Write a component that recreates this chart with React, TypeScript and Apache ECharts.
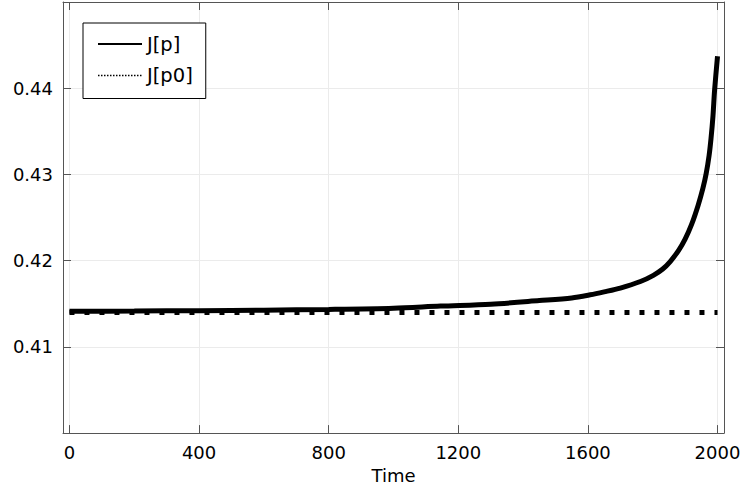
import React, { useEffect, useRef } from "react";
import * as echarts from "echarts";

const timeJp = [0, 200, 400, 600, 800, 1000, 1145, 1300, 1450, 1550, 1607, 1650, 1700, 1762, 1802, 1830, 1854, 1880, 1900, 1920, 1940, 1955, 1965, 1974, 1980, 1986, 1991, 2000];
const valuesJp = [0.41413, 0.41416, 0.4142, 0.41426, 0.41434, 0.41448, 0.41473, 0.41495, 0.41537, 0.41568, 0.41604, 0.41638, 0.41682, 0.41758, 0.4183, 0.419, 0.4199, 0.4212, 0.4225, 0.4242, 0.4264, 0.4284, 0.4301, 0.4322, 0.4342, 0.4368, 0.4398, 0.4437];
const timeJp0 = [0, 2000];
const valuesJp0 = [0.414, 0.414];
const xTicks = [0, 400, 800, 1200, 1600, 2000];
const yTicks = [0.41, 0.42, 0.43, 0.44];
const seriesNames = ["J[p]", "J[p0]"];

const FONT = "DejaVu Sans";
const AXIS_COLOR = "#555555";
const GRID_COLOR = "#ebebeb";

export default function App() {
  const ref = useRef<HTMLDivElement>(null);
  useEffect(() => {
    if (!ref.current) return;
    const chart = echarts.init(ref.current, null, { renderer: "svg" });
    const axisBase = {
      type: "value" as const,
      axisLine: { show: true, onZero: false, lineStyle: { color: AXIS_COLOR, width: 1 } },
      axisTick: { show: true, inside: true, length: 8, lineStyle: { color: AXIS_COLOR, width: 1 } },
    };
    chart.setOption({
      animation: false,
      textStyle: { fontFamily: FONT },
      grid: { left: 63, right: 20, top: 2, bottom: 51, containLabel: false },
      xAxis: [
        {
          ...axisBase,
          position: "bottom",
          min: -20,
          max: 2020,
          name: "Time",
          nameLocation: "middle",
          nameGap: 24,
          nameTextStyle: { fontSize: 18, color: "#000", fontFamily: FONT },
          axisTick: { ...axisBase.axisTick, customValues: xTicks },
          axisLabel: {
            customValues: xTicks,
            fontSize: 18,
            color: "#000",
            margin: 10,
            fontFamily: FONT,
            formatter: (v: number) => String(v),
          },
          splitLine: { show: true, lineStyle: { color: GRID_COLOR, width: 1 } },
        },
        {
          ...axisBase,
          position: "top",
          min: -20,
          max: 2020,
          axisTick: { ...axisBase.axisTick, customValues: xTicks },
          axisLabel: { show: false, customValues: xTicks },
          splitLine: { show: false },
        },
      ],
      yAxis: [
        {
          ...axisBase,
          position: "left",
          min: 0.4,
          max: 0.45,
          axisTick: { ...axisBase.axisTick, customValues: yTicks },
          axisLabel: {
            customValues: yTicks,
            fontSize: 18,
            color: "#000",
            margin: 10,
            fontFamily: FONT,
            formatter: (v: number) => v.toFixed(2),
          },
          splitLine: { show: true, lineStyle: { color: GRID_COLOR, width: 1 } },
        },
        {
          ...axisBase,
          position: "right",
          min: 0.4,
          max: 0.45,
          axisTick: { ...axisBase.axisTick, customValues: yTicks },
          axisLabel: { show: false, customValues: yTicks },
          splitLine: { show: false },
        },
      ],
      legend: {
        orient: "vertical",
        left: 83,
        top: 23,
        padding: [11, 13, 13, 14],
        itemGap: 11.5,
        itemWidth: 44,
        itemHeight: 14,
        borderColor: "#000",
        borderWidth: 1,
        backgroundColor: "#fff",
        textStyle: { fontSize: 19.5, color: "#000", fontFamily: FONT },
        data: [
          {
            name: seriesNames[0],
            lineStyle: { width: 2, type: "solid", color: "#000" },
            itemStyle: { opacity: 0, color: "transparent", borderWidth: 0 },
          },
          {
            name: seriesNames[1],
            lineStyle: { width: 1.5, type: [1.5, 1.5], color: "#000" },
            itemStyle: { opacity: 0, color: "transparent", borderWidth: 0 },
          },
        ],
      },
      series: [
        {
          name: seriesNames[1],
          type: "line",
          xAxisIndex: 0,
          yAxisIndex: 0,
          symbol: "none",
          data: timeJp0.map((t, i) => [t, valuesJp0[i]]),
          lineStyle: { color: "#000", width: 5, type: [5, 10], cap: "butt" },
          itemStyle: { color: "#000" },
          z: 2,
        },
        {
          name: seriesNames[0],
          type: "line",
          xAxisIndex: 0,
          yAxisIndex: 0,
          symbol: "none",
          smooth: 0.3,
          data: timeJp.map((t, i) => [t, valuesJp[i]]),
          lineStyle: { color: "#000", width: 5, type: "solid", cap: "butt" },
          itemStyle: { color: "#000" },
          z: 3,
        },
      ],
    });
    return () => chart.dispose();
  }, []);
  return <div ref={ref} style={{ width: 744, height: 489, position: "absolute", left: 0, top: 0 }} />;
}
